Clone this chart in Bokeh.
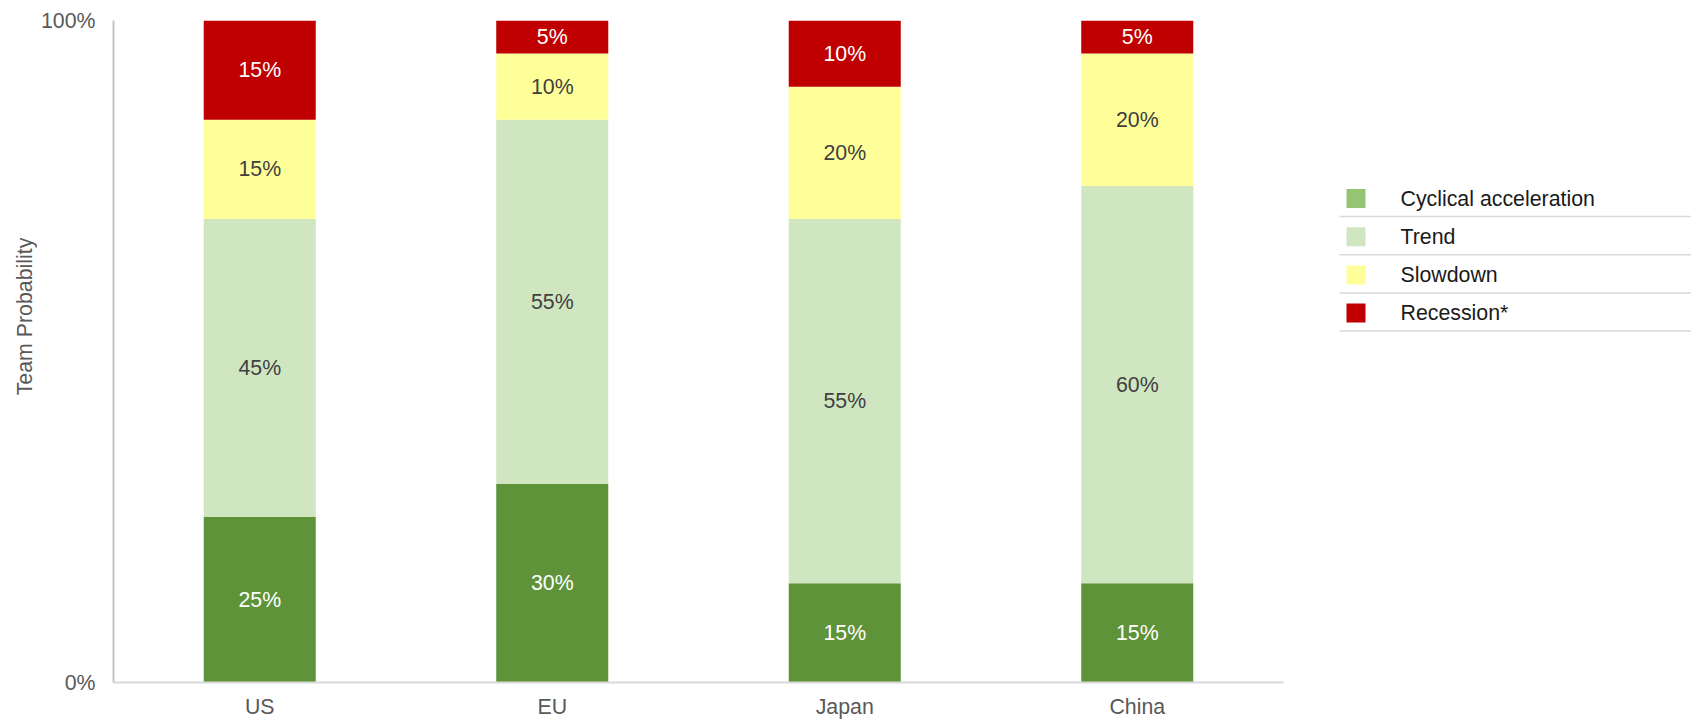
from bokeh.plotting import figure
from bokeh.models import ColumnDataSource, FactorRange, Range1d, FixedTicker
from bokeh.layouts import row
from bokeh.core.properties import value
from bokeh.embed import file_html
from bokeh.resources import INLINE
import math

# ---- data ----
countries = ["US", "EU", "Japan", "China"]
scenarios = ["Cyclical acceleration", "Trend", "Slowdown", "Recession*"]
cyclical = [25, 30, 15, 15]
trend = [45, 55, 55, 60]
slowdown = [15, 10, 20, 20]
recession = [15, 5, 10, 5]
y_ticks = [0, 100]
y_tick_labels = ["0%", "100%"]
y_title = "Team Probability"

bar_colors = ["#5f9339", "#d0e6c1", "#ffff99", "#c00000"]
legend_colors = ["#93c572", "#d0e6c1", "#ffff99", "#c00000"]
label_colors = ["#ffffff", "#404040", "#404040", "#ffffff"]
FONT = "Liberation Sans"
FS = "16pt"

series = [cyclical, trend, slowdown, recession]
keys = ["cyc", "trend", "slow", "rec"]
data = {"country": countries}
for k, s in zip(keys, series):
    data[k] = s
source = ColumnDataSource(data)

H = 723
TOP, BOTTOM = 20, 41          # frame borders (page pixels)
FRAME_BOTTOM = H - BOTTOM     # 682
YLW = 37
LEFT = 76
FRAME_W = 1170
RIGHT = 10
MAIN_W = LEFT + FRAME_W + RIGHT


def blank_panel(w):
    # frame is aligned with the main chart's frame; ranges map 1:1 to page pixels
    f = figure(x_range=Range1d(0, w), y_range=Range1d(FRAME_BOTTOM, TOP), width=w, height=H,
               output_backend="svg", toolbar_location=None,
               x_axis_location=None, y_axis_location=None,
               min_border_left=0, min_border_right=0, min_border_top=TOP, min_border_bottom=BOTTOM)
    f.grid.visible = False
    f.outline_line_color = None
    return f


# ---- y title panel ----
yl = blank_panel(YLW)
yl.text(x=[24], y=[316], text=[y_title], angle=math.pi / 2, text_align="center",
        text_baseline="middle", text_font=value(FONT), text_font_size=FS, text_color="#595959")

# ---- main chart ----
p = figure(x_range=FactorRange(factors=countries), y_range=Range1d(0, 100),
           width=MAIN_W, height=H, output_backend="svg", toolbar_location=None,
           min_border_left=LEFT, min_border_right=RIGHT, min_border_top=TOP, min_border_bottom=BOTTOM)
p.x_range.range_padding = 0
p.vbar_stack(keys, x="country", width=0.383, color=bar_colors, line_color=None, source=source)

for i, (k, s) in enumerate(zip(keys, series)):
    base = [sum(series[j][c] for j in range(i)) for c in range(len(countries))]
    mids = [b + v / 2 for b, v in zip(base, s)]
    txt = [f"{v}%" for v in s]
    src = ColumnDataSource(dict(x=countries, y=mids, t=txt))
    p.text(x="x", y="y", text="t", source=src, text_align="center", text_baseline="middle",
           text_color=label_colors[i], text_font=value(FONT), text_font_size=FS)

p.grid.visible = False
p.outline_line_color = None

p.xaxis.axis_line_color = "#d9d9d9"
p.xaxis.axis_line_width = 2
p.xaxis.major_tick_line_color = None
p.xaxis.minor_tick_line_color = None
p.xaxis.major_tick_out = 0
p.xaxis.major_tick_in = 0
p.xaxis.major_label_standoff = 12
p.xaxis.major_label_text_font = FONT
p.xaxis.major_label_text_font_size = FS
p.xaxis.major_label_text_color = "#595959"

p.yaxis.ticker = FixedTicker(ticks=y_ticks)
p.yaxis.major_label_overrides = {t: l for t, l in zip(y_ticks, y_tick_labels)}
p.yaxis.axis_line_color = "#c9c5bd"
p.yaxis.axis_line_width = 2
p.yaxis.major_tick_line_color = None
p.yaxis.minor_tick_line_color = None
p.yaxis.major_tick_out = 0
p.yaxis.major_tick_in = 0
p.yaxis.major_label_standoff = 18
p.yaxis.major_label_text_font = FONT
p.yaxis.major_label_text_font_size = FS
p.yaxis.major_label_text_color = "#595959"

# ---- legend panel ----
LW = 1691 - YLW - MAIN_W
lg = blank_panel(LW)
row0, step = 198, 38.2
ys = [row0 + i * step for i in range(len(scenarios))]
lg.rect(x=[62.5] * len(scenarios), y=ys, width=19, height=19, fill_color=legend_colors, line_color=None)
lg.text(x=[107] * len(scenarios), y=ys, text=scenarios, text_align="left", text_baseline="middle",
        text_font=value(FONT), text_font_size=FS, text_color="#1a1a1a")
lg.segment(x0=[46] * len(scenarios), x1=[LW] * len(scenarios), y0=[y + 18 for y in ys],
           y1=[y + 18 for y in ys], line_color="#d9d9d9", line_width=1.5)

layout = row(yl, p, lg)
open("out.html", "w").write(file_html(layout, INLINE))
